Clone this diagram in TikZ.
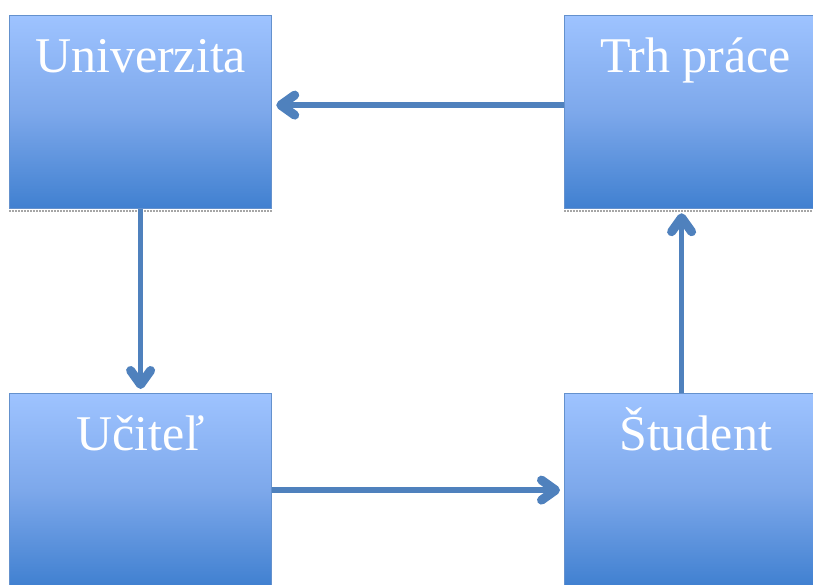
\documentclass[tikz,border=0pt]{standalone}
\usepackage{fontspec}
\setmainfont{Liberation Serif}
\usetikzlibrary{arrows.meta,calc}
\definecolor{boxtop}{RGB}{158,195,255}
\definecolor{boxmid}{RGB}{125,168,235}
\definecolor{boxbot}{RGB}{64,128,208}
\definecolor{boxline}{RGB}{100,145,205}
\definecolor{arrcol}{RGB}{79,129,189}
\tikzset{
  box/.style={draw=boxline, line width=1.2pt, top color=boxtop, bottom color=boxbot,
    middle color=boxmid,
    minimum width=262pt, inner xsep=0pt, inner ysep=0pt,
    text height=57pt, text depth=136pt, text=white,
    font=\fontsize{50}{54}\selectfont, anchor=north west},
  arr/.style={draw=arrcol, line width=5.5pt,
    -{Straight Barb[length=14pt,width=20pt,round,line width=9pt]}, shorten >=4pt},
  shad/.style={draw=gray!70, line width=2pt, densely dotted}
}
\begin{document}
\begin{tikzpicture}[x=1pt,y=-1pt]
\clip (0,0) rectangle (813,584);
\fill[white] (0,0) rectangle (813,584);
\node[box] (uni) at (9,15) {Univerzita};
\node[box] (trh) at (564,15) {Trh práce};
\node[box] (uci) at (9,393) {Učiteľ};
\node[box] (stu) at (564,393) {Študent};
\draw[shad] ([yshift=-2pt]uni.south west) -- ([yshift=-2pt]uni.south east);
\draw[shad] ([yshift=-2pt]trh.south west) -- ([yshift=-2pt]trh.south east);
\draw[arr] ([yshift=7pt]trh.west) -- ([yshift=7pt]uni.east);
\draw[arr] (uni.south) -- (uci.north);
\draw[arr] ([xshift=-14pt]stu.north) -- ([xshift=-14pt]trh.south);
\draw[arr] (uci.east) -- (stu.west);
\end{tikzpicture}
\end{document}
